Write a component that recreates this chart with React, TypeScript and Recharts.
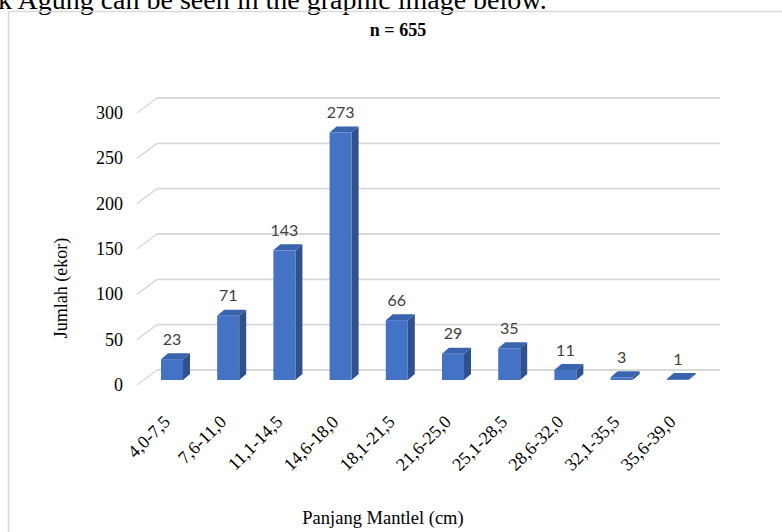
import { BarChart, Bar, XAxis, YAxis, CartesianGrid, LabelList } from "recharts";

const categories = [
  "4,0-7,5",
  "7,6-11,0",
  "11,1-14,5",
  "14,6-18,0",
  "18,1-21,5",
  "21,6-25,0",
  "25,1-28,5",
  "28,6-32,0",
  "32,1-35,5",
  "35,6-39,0",
];
const counts = [23, 71, 143, 273, 66, 29, 35, 11, 3, 1];
const yTicks = [0, 50, 100, 150, 200, 250, 300];

const data = categories.map((range, i) => ({ range, jumlah: counts[i] }));

const serif = '"Liberation Serif", "Times New Roman", serif';
const gridColor = "#d9d9d9";

// depth of the fake 3d columns
const DX = 7;
const DY = 6;

// back wall line plus the short floor diagonal on the left side
const renderGridLine = (props: any) => {
  const { x1, x2, y1, index } = props;
  return (
    <g key={`grid-${index}`}>
      <line x1={x1 - 7} y1={y1 + 5} x2={x1 + 13} y2={y1 - 10} stroke={gridColor} strokeWidth={1.5} />
      <line x1={x1 + 13} y1={y1 - 10} x2={x2 + 14} y2={y1 - 10} stroke={gridColor} strokeWidth={1.8} />
    </g>
  );
};

const Column3D = (props: any) => {
  const { x, y, width, height } = props;
  if (height == null) return null;
  const top = `${x},${y} ${x + DX},${y - DY} ${x + width + DX},${y - DY} ${x + width},${y}`;
  const side = `${x + width},${y} ${x + width + DX},${y - DY} ${x + width + DX},${y + height - DY} ${x + width},${y + height}`;
  return (
    <g>
      <polygon points={side} fill="#2f528f" />
      <polygon points={top} fill="#3a63ad" />
      <rect x={x} y={y} width={width} height={height} fill="#4472c4" />
    </g>
  );
};

const ValueLabel = (props: any) => {
  const { x, y, width, value } = props;
  return (
    <text
      x={x + width / 2}
      y={y - 21}
      textAnchor="middle"
      dominantBaseline="central"
      fill="#404040"
      style={{ fontFamily: "Lato, 'Open Sans', sans-serif", fontSize: 16 }}
    >
      {value}
    </text>
  );
};

const YTick = (props: any) => {
  const { y, payload } = props;
  return (
    <text
      x={123}
      y={y + 5}
      textAnchor="end"
      dominantBaseline="central"
      fill="#000"
      style={{ fontFamily: serif, fontSize: 18 }}
    >
      {payload.value}
    </text>
  );
};

const XTick = (props: any) => {
  const { x, y, payload } = props;
  const px = x - 1;
  const py = y + 35;
  return (
    <text
      x={px}
      y={py}
      textAnchor="end"
      transform={`rotate(-45 ${px} ${py})`}
      fill="#000"
      style={{ fontFamily: serif, fontSize: 18 }}
    >
      {payload.value}
    </text>
  );
};

export default function App() {
  return (
    <div style={{ position: "absolute", left: 0, top: 0, width: 782, height: 532, overflow: "hidden", background: "#fff" }}>
      <BarChart
        width={782}
        height={532}
        data={data}
        margin={{ top: 108, right: 76, left: 0, bottom: 0 }}
        barSize={22}
      >
        <CartesianGrid vertical={false} horizontal={renderGridLine} />
        <XAxis dataKey="range" height={152} axisLine={false} tickLine={false} interval={0} tick={<XTick />} />
        <YAxis
          domain={[0, 300]}
          ticks={yTicks}
          width={144}
          axisLine={false}
          tickLine={false}
          tick={<YTick />}
          interval={0}
        />
        <Bar dataKey="jumlah" shape={<Column3D />} isAnimationActive={false}>
          <LabelList dataKey="jumlah" content={<ValueLabel />} />
        </Bar>
      </BarChart>
      <svg width={782} height={532} style={{ position: "absolute", left: 0, top: 0, pointerEvents: "none" }}>
        <text x={-2} y={9} fontFamily={serif} fontSize={28} fill="#000">
          k Agung can be seen in the graphic image below.
        </text>
        <rect x={8.5} y={11.5} width={800} height={600} fill="none" stroke={gridColor} strokeWidth={1.5} />
        <text x={398} y={36} textAnchor="middle" fontFamily={serif} fontWeight="bold" fontSize={18} fill="#000">
          n = 655
        </text>
        <text
          x={0}
          y={0}
          transform="translate(67 288) rotate(-90)"
          textAnchor="middle"
          fontFamily={serif}
          fontSize={18}
          fill="#000"
        >
          Jumlah (ekor)
        </text>
        <text x={383} y={524} textAnchor="middle" fontFamily={serif} fontSize={18.5} fill="#000">
          Panjang Mantlel (cm)
        </text>
      </svg>
    </div>
  );
}
